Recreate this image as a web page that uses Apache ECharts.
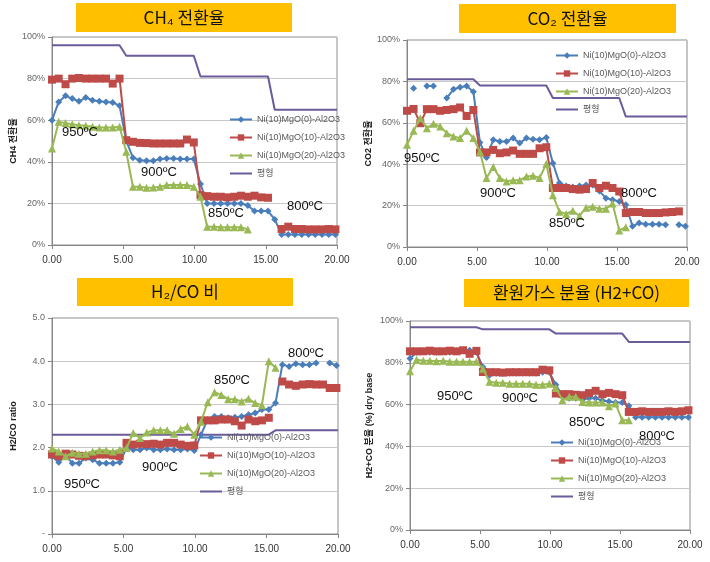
<!DOCTYPE html>
<html>
<head>
<meta charset="utf-8">
<script src="https://cdn.jsdelivr.net/npm/echarts@6/dist/echarts.min.js"></script>
<style>html,body{margin:0;padding:0;background:#fff;}#c{width:710px;height:562px;}</style>
</head>
<body>
<div id="c"></div>
<script>
// time axis (h)
var T = [0,0.47,0.95,1.42,1.89,2.37,2.84,3.32,3.79,4.26,4.74,5.21,5.68,6.16,6.63,7.11,7.58,8.05,8.53,9.0,9.47,9.95,10.42,10.89,11.37,11.84,12.32,12.79,13.26,13.74,14.21,14.68,15.16,15.63,16.11,16.58,17.05,17.53,18.0,18.47,18.95,19.42,19.89];
var eqT = [0,4.74,5.21,9.95,10.42,15.16,15.63,20];
var names = ['Ni(10)MgO(0)-Al2O3','Ni(10)MgO(10)-Al2O3','Ni(10)MgO(20)-Al2O3','평형'];
var xTicks = ['0.00','5.00','10.00','15.00','20.00'];
var tempLabels = ['950ºC','900ºC','850ºC','800ºC'];

// CH4 conversion (%)
var ch4A = [60,68.8,71.7,70.4,69.1,70.9,69.6,69.1,68.8,68.5,67, 50,42,40.8,40.5,40.5,41.3,41.6,41.6,41.3,41.3,41.3, 29.3,20,20,20,20,20,20,19,16.3,16.3,16.3, 12.3,5.1,5,5,5,5,5,5,5,5];
var ch4B = [79.5,80,77.3,80,80.3,80,80,80,80,77.6,80, 50.4,49.6,49.1,49,48.8,48.8,48.8,48.8,48.8,50.7,49.3, 24,23.5,23.2,23.2,22.9,23.2,23.7,23.2,23.7,22.9,22.7, null,7.7,8.8,7.7,7.7,7.5,7.5,7.5,7.7,7.5];
var ch4C = [46.4,59.2,58.7,58,57.6,57.3,56.8,56.5,56.5,56.5,56.8, 44.8,28,28,27.5,27.7,28,28.8,28.8,28.8,28.8,28, 23.2,8.8,8.8,8.5,8.5,8.5,8.5,7.5, null,null,null,null,null,null,null,null,null,null,null,null,null];
var ch4Eq = [96,96,91,91,81,81,65,65];

// CO2 conversion (%)
var co2A = [null,76.7,null,77.8,77.8,null,72,76.2,77.2,77.8,75, 50.5,43.2,51.8,51,51,52.6,50.2,52.6,52,51.8,52.9, 40.5,30.9,29.5,29,29.5,30,30,27,23.6,22.8,22,20.4, 10,11.6,11,11,11,10.8,null,10.8,10];
var co2B = [65.8,66.7,59.8,66.6,66.6,65.8,66.2,66.6,67.4,63.3,66.2, 45.7,45.7,46.9,45.3,45.7,46.6,45,45,45,47.7,48.2, 28.5,28.5,28.5,28,27.7,28,30.9,28.5,29.6,28.5,26.8, 16.4,16.9,16.9,16.4,16.4,16.4,16.7,16.9,17.2,null];
var co2C = [49.4,56.1,62.2,57.4,59.5,58.2,55,53.4,52.6,56.1,52.6, 46,33.3,38.6,33.3,31.7,32.2,32.2,34.1,34.4,33.3,40.2, 25,17,16,17.5,15,19,19.5,18.5,18.5,21,8, 9.6, null,null,null,null,null,null,null,null,null];
var co2Eq = [81,81,78,78,72,72,63,63];

// H2/CO ratio
var hA = [1.80,1.66,1.82,1.64,1.64,1.76,1.72,1.64,1.64,1.64,1.66, 1.99,1.95,1.95,1.99,1.95,1.95,1.97,1.95,1.95,1.97,1.93, 2.3,2.65,2.72,2.72,2.69,2.7,2.72,2.76,2.8,2.88,2.88, 3.03,3.92,3.88,3.94,3.92,3.92,3.96,null,3.96,3.9];
var hB = [1.84,1.80,1.86,1.84,1.81,1.80,1.82,1.84,1.84,1.82,1.80, 2.11,2.07,2.09,2.08,2.09,2.07,2.11,2.11,2.07,2.04,2.05, 2.63,2.63,2.63,2.65,2.65,2.61,2.51,2.65,2.61,2.63,2.69, null,3.53,3.46,3.43,3.46,3.47,3.46,3.46,3.38,3.38];
var hC = [1.98,1.91,1.80,1.88,1.86,1.86,1.91,1.94,1.94,1.91,1.95, 1.99,2.34,2.22,2.35,2.40,2.40,2.40,2.32,2.43,2.49,2.30, 2.6,3.05,3.28,3.22,3.12,3.12,3.07,3.13,3.03,2.98,4.0, 3.85, null,null,null,null,null,null,null,null,null];
var hEq = [2.3,2.3,2.3,2.3,2.3,2.3,2.4,2.4];

// H2+CO fraction (%) dry base
var fA = [82,85,85.5,85,85,85.5,85,85.5,86,86,85, 78,74,75,75,75,75,75,75,75,75.5,75.5, 69.5,64,63,63,62.5,63,63,62,61.5,61,61, 59.5,54,54,54,54,54,54,54,54,54];
var fB = [85.5,85.5,85.5,85.8,85.5,85.5,85.8,85.5,86,84.3,85.7, 75.6,75.5,75.5,75.3,75.5,75.5,75.5,75.5,75.5,76.7,76.4, 65.3,65,65,64.7,64.5,65.5,66.6,65,65.6,65,64.5, 56.5,56.5,56.8,56.5,56.5,56.5,56.8,56.5,56.8,57.3];
var fC = [76,81.5,81,81,80.8,81,80.5,80.5,80.5,80.5,80.5, 77.2,70.9,70.5,70.5,70,70,70,70,69.5,69.5,70, 68,62.1,63.7,63.7,61.3,61,61,61,59.2,60.5,52.5, 52.5, null,null,null,null,null,null,null,null,null];
var fEq = [97,97,96,96,94,94,90,90];

var panels = [
  {a:ch4A,b:ch4B,c:ch4C,eq:ch4Eq,max:100,pct:true,name:'CH4 전환율',title:'CH₄ 전환율',
   grid:{left:52,top:37,width:285,height:208},legend:{left:229,top:114},
   box:[76,3,216,29],temps:[[80,132],[159,172],[226,213],[305,206]]},
  {a:co2A,b:co2B,c:co2C,eq:co2Eq,max:100,pct:true,name:'CO2 전환율',title:'CO₂ 전환율',
   grid:{left:407,top:40,width:280,height:207},legend:{left:555,top:50},
   box:[459,4,217,29],temps:[[422,158],[498,193],[567,223],[639,193]]},
  {a:hA,b:hB,c:hC,eq:hEq,max:5,pct:false,name:'H2/CO ratio',title:'H₂/CO 비',
   grid:{left:52,top:318,width:286,height:216},legend:{left:199,top:432},
   box:[77,278,216,28],temps:[[82,484],[160,467],[232,380],[306,353]]},
  {a:fA,b:fB,c:fC,eq:fEq,max:100,pct:true,name:'H2+CO 분율 (%) dry base',title:'환원가스 분율 (H2+CO)',
   grid:{left:410,top:321,width:280,height:209},legend:{left:550,top:437},
   box:[464,279,225,28],temps:[[455,396],[520,398],[587,422],[657,436]]}
];

var colors = ['#4A7EBB','#BE4B48','#98B954','#6B5B9A'];
var FONT = 'Liberation Sans, Arial, Noto Sans CJK KR, sans-serif';

function pairs(xs, ys){ return xs.map(function(x,i){ return [x, ys[i]]; }); }

var grids=[], xAxes=[], yAxes=[], series=[], legends=[], graphics=[];
panels.forEach(function(p, k){
  grids.push(Object.assign({show:true, borderColor:'#8c8c8c', borderWidth:1, backgroundColor:'#fff'}, p.grid));
  xAxes.push({type:'value', gridIndex:k, min:0, max:20, interval:5,
    axisLine:{show:true, onZero:false, lineStyle:{color:'#868686'}},
    axisTick:{show:true, length:4, lineStyle:{color:'#868686'}},
    splitLine:{show:false},
    axisLabel:{fontSize:10, color:'#333', margin:10, fontFamily:FONT,
      formatter:function(v){ return xTicks[Math.round(v/5)]; }}});
  yAxes.push({type:'value', gridIndex:k, min:0, max:p.max, interval:p.max/5,
    name:p.name, nameLocation:'middle', nameGap: k===3 ? 36 : 34,
    nameTextStyle:{fontSize:9, fontWeight:'bold', color:'#222', fontFamily:FONT},
    axisLine:{show:true, lineStyle:{color:'#868686'}},
    axisTick:{show:true, length:4, lineStyle:{color:'#868686'}},
    splitLine:{show:true, lineStyle:{color:'#c8c8c8', width:1}},
    axisLabel:{fontSize:9, color:'#666', margin:7, fontFamily:FONT,
      formatter: p.pct ? function(v){ return v + '%'; } : function(v){ return v===0 ? '-' : v.toFixed(1); }}});
  var common = {type:'line', xAxisIndex:k, yAxisIndex:k, connectNulls:false, animation:false};
  series.push(Object.assign({}, common, {name:names[0], data:pairs(T,p.a), symbol:'diamond', symbolSize:7,
    itemStyle:{color:colors[0]}, lineStyle:{width:2,color:colors[0]}, z:3}));
  series.push(Object.assign({}, common, {name:names[1], data:pairs(T,p.b), symbol:'rect', symbolSize:8,
    itemStyle:{color:colors[1]}, lineStyle:{width:2,color:colors[1]}, z:4}));
  series.push(Object.assign({}, common, {name:names[2], data:pairs(T,p.c), symbol:'triangle', symbolSize:8,
    itemStyle:{color:colors[2]}, lineStyle:{width:2,color:colors[2]}, z:5}));
  series.push(Object.assign({}, common, {name:names[3], data:pairs(eqT,p.eq), symbol:'none', showSymbol:false,
    itemStyle:{color:colors[3]}, lineStyle:{width:2,color:colors[3]}, z:2}));
  legends.push({orient:'vertical', left:p.legend.left, top:p.legend.top,
    data:[names[0], names[1], names[2], {name:names[3], icon:'path://M0,0L22,0L22,2L0,2Z'}],
    itemWidth:22, itemHeight:8, itemGap:7, padding:0,
    textStyle:{fontSize:9, lineHeight:11, color:'#595959', fontFamily:FONT}, selectedMode:false});
  graphics.push({type:'rect', shape:{x:p.box[0], y:p.box[1], width:p.box[2], height:p.box[3]},
    style:{fill:'#FFC000'}, z:10});
  graphics.push({type:'text', x:p.box[0]+p.box[2]/2, y:p.box[1]+p.box[3]/2,
    style:{text:p.title, fill:'#111', font:'17px "Noto Sans CJK KR", sans-serif', textAlign:'center', textVerticalAlign:'middle'}, z:11});
  p.temps.forEach(function(pt, j){
    graphics.push({type:'text', x:pt[0], y:pt[1],
      style:{text:tempLabels[j], fill:'#111', font:'13px "Liberation Sans", Arial, sans-serif', textAlign:'center', textVerticalAlign:'middle'}, z:12});
  });
});

var chart = echarts.init(document.getElementById('c'), null, {renderer:'canvas'});
chart.setOption({
  backgroundColor:'#fff', animation:false,
  grid:grids, xAxis:xAxes, yAxis:yAxes, series:series, legend:legends, graphic:graphics
});
</script>
</body>
</html>
